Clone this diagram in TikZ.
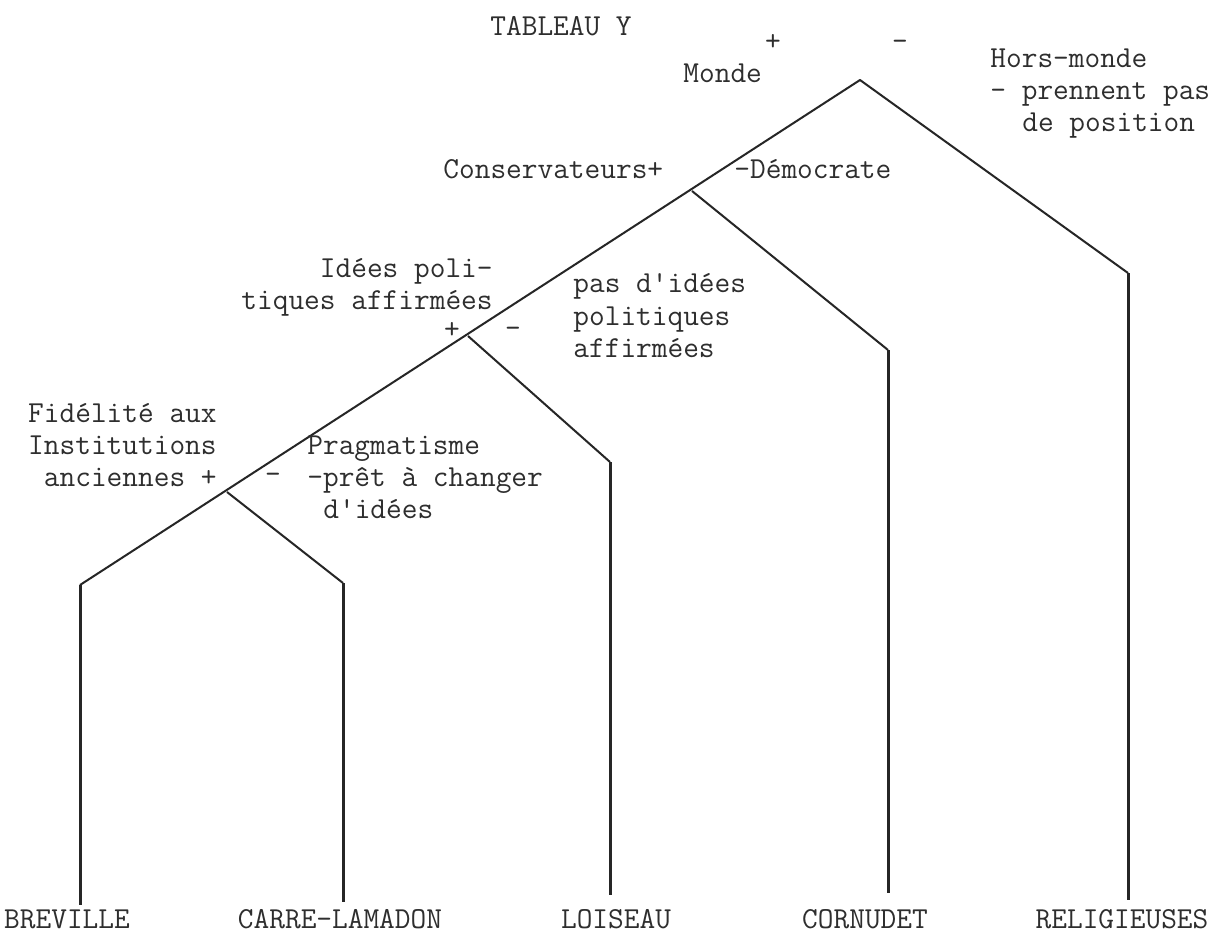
\documentclass[tikz,border=0pt]{standalone}
\usepackage{fontspec}
\newcommand\tyfont{\fontsize{15.24}{16.25}\selectfont\ttfamily}
\tikzset{
  lbl/.style={font=\tyfont, inner sep=0pt, text=black!82},
  lw/.style={lbl, anchor=base west},
  le/.style={lbl, anchor=base east},
  sgn/.style={lbl, anchor=center},
  branch/.style={line width=1pt, draw=black!85, line join=round},
  stem/.style={line width=1.5pt, draw=black!85},
}
\begin{document}
\begin{tikzpicture}[x=0.5pt,y=-0.5pt]
\useasboundingbox (0,0) rectangle (1219,938);
\fill[white] (0,0) rectangle (1219,938);

% tree points
\coordinate (A) at (860,80);
\coordinate (B) at (80,585);
\coordinate (R) at (1128,273);
\coordinate (J1) at (692,191);
\coordinate (J2) at (468,336);
\coordinate (J3) at (227,492);
\coordinate (Ct) at (888,350);
\coordinate (Lt) at (610,462);
\coordinate (Kt) at (343,583);
\coordinate (Bb) at (80,905);
\coordinate (Kb) at (343,902);
\coordinate (Lb) at (610,895);
\coordinate (Cb) at (888,893);
\coordinate (Rb) at (1128,900);

% connectors
\draw[branch] (B) -- (A) -- (R);
\draw[branch] (J1) -- (Ct);
\draw[branch] (J2) -- (Lt);
\draw[branch] (J3) -- (Kt);
\draw[stem] (B) -- (Bb);
\draw[stem] (Kt) -- (Kb);
\draw[stem] (Lt) -- (Lb);
\draw[stem] (Ct) -- (Cb);
\draw[stem] (R) -- (Rb);

% title and top labels
\node[lw] (title) at (490,35) {TABLEAU Y};
\node[sgn] (plusA) at (773,42) {+};
\node[sgn] (minusA) at (900,45) {-};
\node[lw] (monde) at (683,82) {Monde};
\node[lw] (hm1) at (990,67) {Hors-monde};
\node[lw] (hm2) at (990,99) {- prennent pas};
\node[lw] (hm3) at (1022,131) {de position};

\node[lw] (cons) at (443,178) {Conservateurs+};
\node[lw] (demo) at (734,178) {-Démocrate};

\node[le] (ip1) at (493,277) {Idées poli-};
\node[le] (ip2) at (493,309) {tiques affirmées};
\node[sgn] (plusB) at (452,330) {+};
\node[sgn] (minusB) at (513,332) {-};
\node[lw] (np1) at (573,292) {pas d'idées};
\node[lw] (np2) at (573,325) {politiques};
\node[lw] (np3) at (573,357) {affirmées};

\node[le] (fi1) at (217,422) {Fidélité aux};
\node[le] (fi2) at (217,454) {Institutions};
\node[le] (fi3) at (217,486) {anciennes +};
\node[sgn] (minusC) at (273,478) {-};
\node[lw] (pr1) at (307,454) {Pragmatisme};
\node[lw] (pr2) at (307,486) {-prêt à changer};
\node[lw] (pr3) at (323,518) {d'idées};

% bottom labels
\node[lbl, anchor=base] (brev) at (67,928) {BREVILLE};
\node[lbl, anchor=base] (carre) at (340,928) {CARRE-LAMADON};
\node[lbl, anchor=base] (lois) at (616,928) {LOISEAU};
\node[lbl, anchor=base] (corn) at (865,928) {CORNUDET};
\node[lbl, anchor=base] (reli) at (1122,928) {RELIGIEUSES};
\end{tikzpicture}
\end{document}
